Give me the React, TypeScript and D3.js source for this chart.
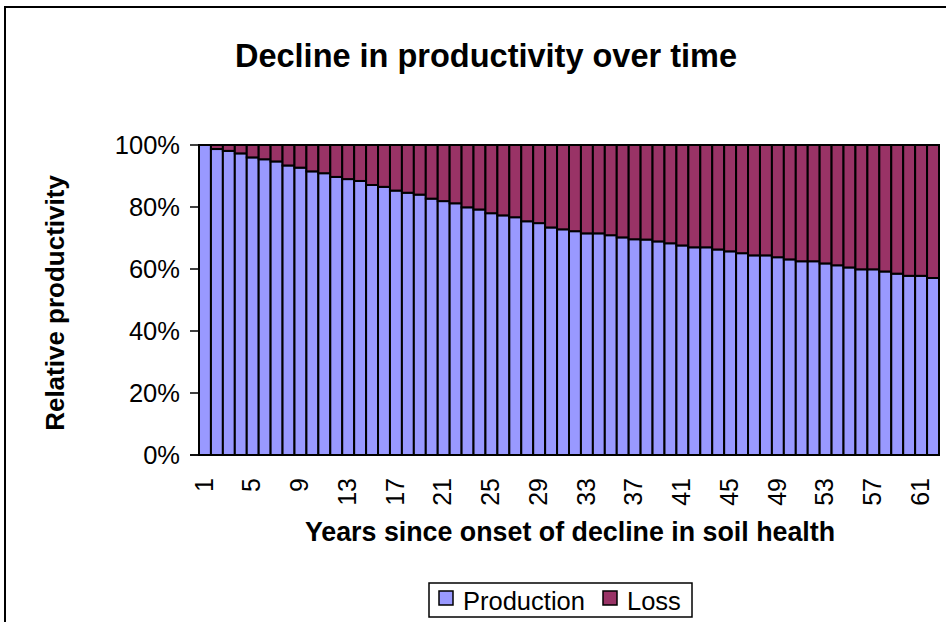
import React from 'react';
import * as d3 from 'd3';

const width = 946;
const height = 622;
const plot = { left: 199, right: 939, top: 145, bottom: 455 };
const font = "Arial, 'Liberation Sans', sans-serif";

const years = d3.range(1, 63);
const production = [
  100, 98.7, 98.1, 97.3, 96.0, 95.4, 94.7, 93.4, 92.7, 91.5,
  90.9, 89.7, 89.0, 88.4, 87.1, 86.5, 85.3, 84.6, 84.0, 82.7,
  81.9, 81.2, 79.9, 79.2, 78.0, 77.3, 76.7, 75.4, 74.8, 73.4,
  72.8, 72.2, 71.5, 71.5, 70.9, 70.2, 69.6, 69.5, 68.9, 68.3,
  67.6, 67.0, 67.0, 66.3, 65.7, 65.1, 64.4, 64.4, 63.8, 63.1,
  62.5, 62.5, 61.8, 61.2, 60.5, 59.9, 59.9, 59.2, 58.5, 57.8,
  57.8, 57.1,
];
const loss = [
  0, 1.3, 1.9, 2.7, 4.0, 4.6, 5.3, 6.6, 7.3, 8.5,
  9.1, 10.3, 11.0, 11.6, 12.9, 13.5, 14.7, 15.4, 16.0, 17.3,
  18.1, 18.8, 20.1, 20.8, 22.0, 22.7, 23.3, 24.6, 25.2, 26.6,
  27.2, 27.8, 28.5, 28.5, 29.1, 29.8, 30.4, 30.5, 31.1, 31.7,
  32.4, 33.0, 33.0, 33.7, 34.3, 34.9, 35.6, 35.6, 36.2, 36.9,
  37.5, 37.5, 38.2, 38.8, 39.5, 40.1, 40.1, 40.8, 41.5, 42.2,
  42.2, 42.9,
];
const seriesNames = ['Production', 'Loss'];
const seriesColors = ['#9999FF', '#993366'];
const yTicks = [0, 20, 40, 60, 80, 100];
const xTickYears = [1, 5, 9, 13, 17, 21, 25, 29, 33, 37, 41, 45, 49, 53, 57, 61];

const App = () => {
  const rows = years.map((y, i) => ({ year: y, Production: production[i], Loss: loss[i] }));
  const stacked = d3.stack<any>().keys(seriesNames)(rows);

  const xScale = d3.scaleBand<number>()
    .domain(years)
    .range([plot.left, plot.right])
    .paddingInner(0)
    .paddingOuter(0);

  const yScale = d3.scaleLinear()
    .domain([0, 100])
    .range([plot.bottom, plot.top]);

  return (
    <svg width={width} height={height} style={{ position: 'absolute', left: 0, top: 0, background: '#fff' }}>
      {/* chart frame */}
      <rect x={5} y={7} width={960} height={640} fill="#fff" stroke="#000" strokeWidth={2} />

      <text x={486} y={67} textAnchor="middle" fontFamily={font} fontWeight="bold" fontSize={32.5}>
        Decline in productivity over time
      </text>

      {stacked.map((layer, si) => (
        <g key={layer.key}>
          {layer.map((d, i) => (
            <rect
              key={i}
              x={xScale(years[i])}
              y={yScale(d[1])}
              width={xScale.bandwidth()}
              height={yScale(d[0]) - yScale(d[1])}
              fill={seriesColors[si]}
              stroke="#000"
              strokeWidth={2}
            />
          ))}
        </g>
      ))}

      {/* y axis */}
      <line x1={plot.left} x2={plot.left} y1={plot.top} y2={plot.bottom} stroke="#000" strokeWidth={1.5} />
      {yTicks.map(t => (
        <g key={t} transform={`translate(0,${yScale(t)})`}>
          <line x1={plot.left - 9} x2={plot.left} stroke="#000" strokeWidth={1.5} />
          <text x={plot.left - 19} dy="0.35em" textAnchor="end" fontFamily={font} fontSize={25.5}>
            {t}%
          </text>
        </g>
      ))}
      <line x1={plot.left - 9} x2={plot.right} y1={plot.bottom} y2={plot.bottom} stroke="#000" strokeWidth={1.5} />

      {/* x tick labels */}
      {xTickYears.map(t => (
        <text
          key={t}
          transform={`translate(${(xScale(t) as number) + xScale.bandwidth() / 2 - 1},478) rotate(-90)`}
          dy="0.35em"
          textAnchor="end"
          fontFamily={font}
          fontSize={25}
        >
          {t}
        </text>
      ))}

      <text x={570} y={541} textAnchor="middle" fontFamily={font} fontWeight="bold" fontSize={26.8}>
        Years since onset of decline in soil health
      </text>
      <text
        transform={`translate(64,303) rotate(-90)`}
        textAnchor="middle"
        fontFamily={font}
        fontWeight="bold"
        fontSize={26}
      >
        Relative productivity
      </text>

      {/* legend */}
      <rect x={429} y={583} width={263} height={34} fill="#fff" stroke="#000" strokeWidth={1.5} />
      <rect x={439} y={591} width={14} height={14} fill={seriesColors[0]} stroke="#000" strokeWidth={1.5} />
      <text x={463} y={610} fontFamily={font} fontSize={25.5}>{seriesNames[0]}</text>
      <rect x={603} y={591} width={14} height={14} fill={seriesColors[1]} stroke="#000" strokeWidth={1.5} />
      <text x={627} y={610} fontFamily={font} fontSize={25.5}>{seriesNames[1]}</text>
    </svg>
  );
};

export default App;
